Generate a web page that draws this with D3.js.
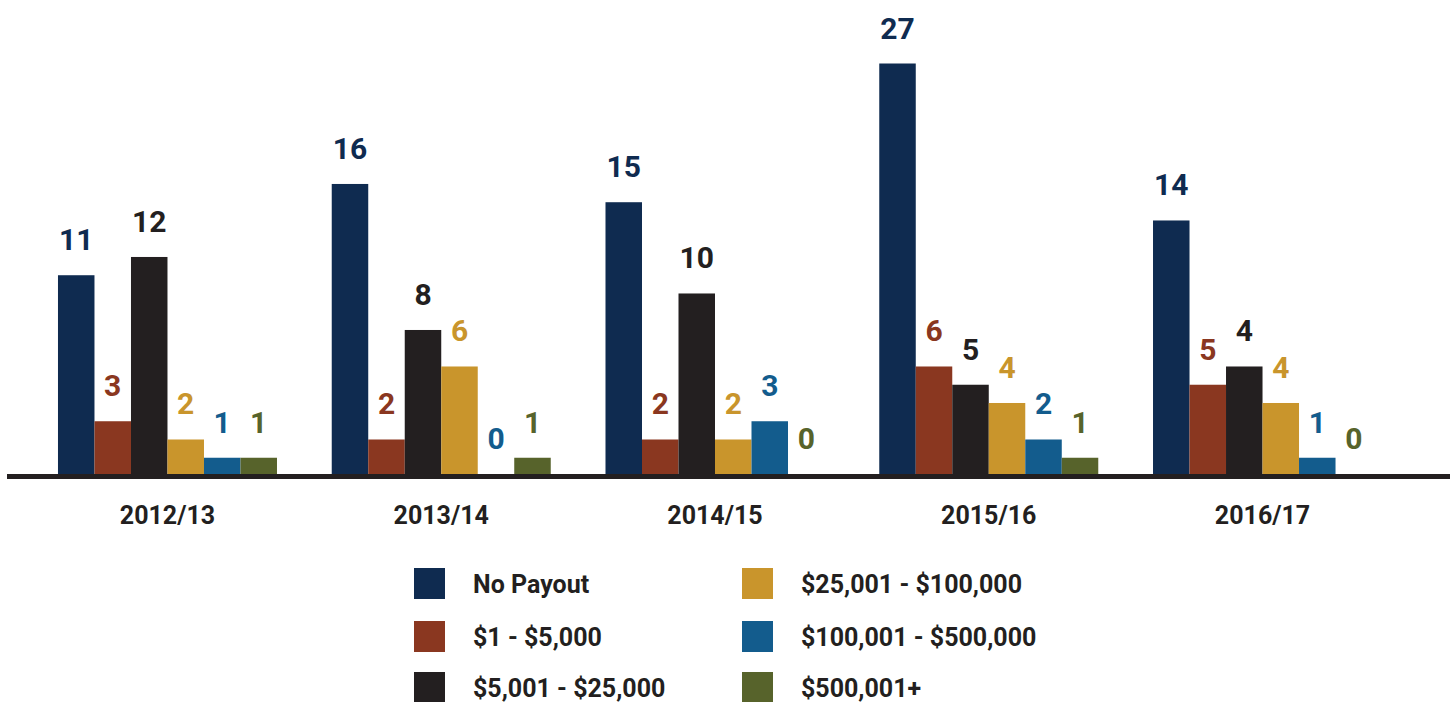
<!DOCTYPE html>
<html>
<head>
<meta charset="utf-8">
<script src="https://d3js.org/d3.v7.min.js"></script>
<style>
  body { margin: 0; background: #fff; }
  svg { display: block; font-family: Roboto, "DejaVu Sans", sans-serif; font-weight: bold; }
</style>
</head>
<body>
<div id="chart"></div>
<script>
var categories = ['2012/13', '2013/14', '2014/15', '2015/16', '2016/17'];
var seriesNames = ['No Payout', '$1 - $5,000', '$5,001 - $25,000', '$25,001 - $100,000', '$100,001 - $500,000', '$500,001+'];
var noPayout = [11, 16, 15, 27, 14];
var upTo5k = [3, 2, 2, 6, 5];
var upTo25k = [12, 8, 10, 5, 6];        // bar heights as drawn in the original
var upTo25kLabels = [12, 8, 10, 5, 4];  // the 2016/17 bar is labelled 4 though drawn at 6
var upTo100k = [2, 6, 2, 4, 4];
var upTo500k = [1, 0, 3, 2, 1];
var over500k = [1, 1, 0, 1, 0];
var colors = ['#0f2b50', '#8a3720', '#231f20', '#c9952c', '#135c8d', '#57632b'];

var seriesValues = [noPayout, upTo5k, upTo25k, upTo100k, upTo500k, over500k];
var seriesLabels = [noPayout, upTo5k, upTo25kLabels, upTo100k, upTo500k, over500k];

var width = 1450, height = 702;

var svg = d3.select('#chart')
	.append('svg')
	.attr('width', width)
	.attr('height', height);

var x0 = d3.scaleBand().domain(categories).range([30.6, 1399.4]).paddingInner(0.2).paddingOuter(0.1);
var x1 = d3.scaleBand().domain(seriesNames).range([0, x0.bandwidth()]);
// the chart's top is cut off, taller bars get clipped
var y = d3.scaleLinear().domain([0, 22.6]).range([476, 63.5]).clamp(true);

var rows = [];
categories.forEach(function(c, i) {
	seriesNames.forEach(function(s, j) {
		rows.push({cat: c, series: s, value: seriesValues[j][i], label: seriesLabels[j][i], color: colors[j]});
	});
});

var groups = svg.append('g');

groups.selectAll('rect').data(rows)
	.enter().append('rect')
	.attr('x', function(d) { return x0(d.cat) + x1(d.series); })
	.attr('y', function(d) { return y(d.value); })
	.attr('width', x1.bandwidth())
	.attr('height', function(d) { return y(0) - y(d.value); })
	.style('fill', function(d) { return d.color; });

groups.selectAll('text').data(rows)
	.enter().append('text')
	.attr('x', function(d) { return x0(d.cat) + x1(d.series) + x1.bandwidth() / 2; })
	.attr('y', function(d) { return Math.min(y(d.value), 474) - 25; })
	.attr('text-anchor', 'middle')
	.style('font-size', '30px')
	.style('fill', function(d) { return d.color; })
	.text(function(d) { return d.label; });

// baseline
svg.append('rect')
	.attr('x', 7)
	.attr('y', 474)
	.attr('width', width - 7)
	.attr('height', 5)
	.style('fill', '#231f20');

var haxis = d3.axisBottom(x0).tickSize(0).tickPadding(0);
var hguide = svg.append('g').attr('transform', 'translate(0, 506)');
haxis(hguide);
hguide.select('.domain').remove();
hguide.selectAll('text')
	.attr('dy', '0.71em')
	.style('font-size', '25px')
	.style('font-family', 'Roboto, sans-serif')
	.style('font-weight', 'bold')
	.style('fill', '#231f20');

// legend, two columns of three
var legendCols = [414, 742];
var legendRows = [568, 621, 672];
var legend = svg.append('g').selectAll('g').data(seriesNames)
	.enter().append('g')
	.attr('transform', function(d, i) {
		return 'translate(' + legendCols[Math.floor(i / 3)] + ',' + legendRows[i % 3] + ')';
	});
legend.append('rect')
	.attr('width', 31)
	.attr('height', 31)
	.style('fill', function(d, i) { return colors[i]; });
legend.append('text')
	.attr('x', 59)
	.attr('y', 25)
	.style('font-size', '25px')
	.style('fill', '#231f20')
	.text(function(d) { return d; });
</script>
</body>
</html>
